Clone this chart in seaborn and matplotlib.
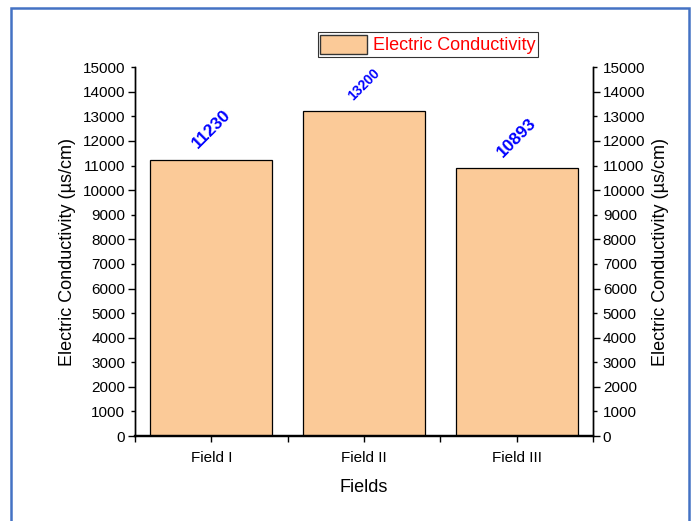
import matplotlib
matplotlib.use("Agg")
import matplotlib.pyplot as plt
from matplotlib.patches import Patch, Rectangle
from matplotlib.ticker import MultipleLocator, FuncFormatter
import seaborn as sns
import pandas as pd

# Data
fields = ["Field I", "Field II", "Field III"]
conductivity = [11230, 13200, 10893]
label_sizes = [12.5, 10, 12.5]
series_name = "Electric Conductivity"
y_label = "Electric Conductivity (\u00b5s/cm)"
x_label = "Fields"

sns.set_theme(style="white")
plt.rcParams["font.family"] = ["Liberation Sans", "DejaVu Sans"]

bar_color = "#FBCA98"
df = pd.DataFrame({"field": fields, "ec": conductivity})

fig = plt.figure(figsize=(6.92, 5.21), dpi=100)
ax = fig.add_axes([0.195, 0.163, 0.662, 0.708])

sns.barplot(data=df, x="field", y="ec", color=bar_color, saturation=1,
            edgecolor="black", linewidth=0.9, width=0.8, ax=ax)

ax.set_xlim(-0.5, 2.5)
ax.set_ylim(0, 15000)

# value labels above bars
for i, (v, fs) in enumerate(zip(conductivity, label_sizes)):
    ax.annotate(f"{v}", xy=(i, v), xytext=(0, 6), textcoords="offset points",
                ha="center", va="bottom", rotation=45, color="#0000FF",
                fontweight="bold", fontsize=fs)

fmt = FuncFormatter(lambda v, p: f"{int(v)}")

def style_y(a, side):
    a.set_ylim(0, 15000)
    a.yaxis.set_major_locator(MultipleLocator(2000))
    a.yaxis.set_minor_locator(MultipleLocator(1000))
    a.yaxis.set_major_formatter(fmt)
    a.yaxis.set_minor_formatter(fmt)
    a.tick_params(axis="y", which="major", length=5, width=1, direction="out",
                  labelsize=11, pad=2, colors="black", left=(side == "left"),
                  right=(side == "right"), labelleft=(side == "left"),
                  labelright=(side == "right"))
    a.tick_params(axis="y", which="minor", length=3, width=1, direction="out",
                  labelsize=11, pad=4, colors="black", left=(side == "left"),
                  right=(side == "right"), labelleft=(side == "left"),
                  labelright=(side == "right"))
    a.set_ylabel(y_label, fontsize=13, color="black", labelpad=5)

style_y(ax, "left")

ax.set_xlabel(x_label, fontsize=13, color="black", labelpad=10)
ax.set_xticks(range(len(fields)))
ax.set_xticklabels(fields)
ax.set_xticks([-0.5, 0.5, 1.5, 2.5], minor=True)
ax.tick_params(axis="x", which="both", length=4, width=1, direction="out",
               labelsize=11, colors="black", bottom=True, pad=7)

ax2 = ax.twinx()
style_y(ax2, "right")
ax2.yaxis.set_label_position("right")

for a in (ax, ax2):
    a.spines["top"].set_visible(False)
    for s in ("left", "right"):
        a.spines[s].set_color("black")
        a.spines[s].set_linewidth(1.0)
    a.spines["bottom"].set_color("black")
    a.spines["bottom"].set_linewidth(1.6)

handle = Patch(facecolor=bar_color, edgecolor="#333333", linewidth=1.0)
leg = fig.legend([handle], [series_name], loc="center",
                 bbox_to_anchor=(0.618, 0.9146), frameon=True, fancybox=False,
                 fontsize=13, handlelength=2.6, handleheight=1.3,
                 handletextpad=0.3, borderpad=0.15, borderaxespad=0)
leg.get_frame().set_edgecolor("black")
leg.get_frame().set_linewidth(0.8)
for t in leg.get_texts():
    t.set_color("#FF0000")

# frame around the figure
fig.patches.append(Rectangle((11 / 692, -0.05), 678 / 692, 1.05 - 8 / 521,
                             transform=fig.transFigure, fill=False,
                             edgecolor="#4472C4", linewidth=1.8))

fig.savefig("out.png", dpi=100)
